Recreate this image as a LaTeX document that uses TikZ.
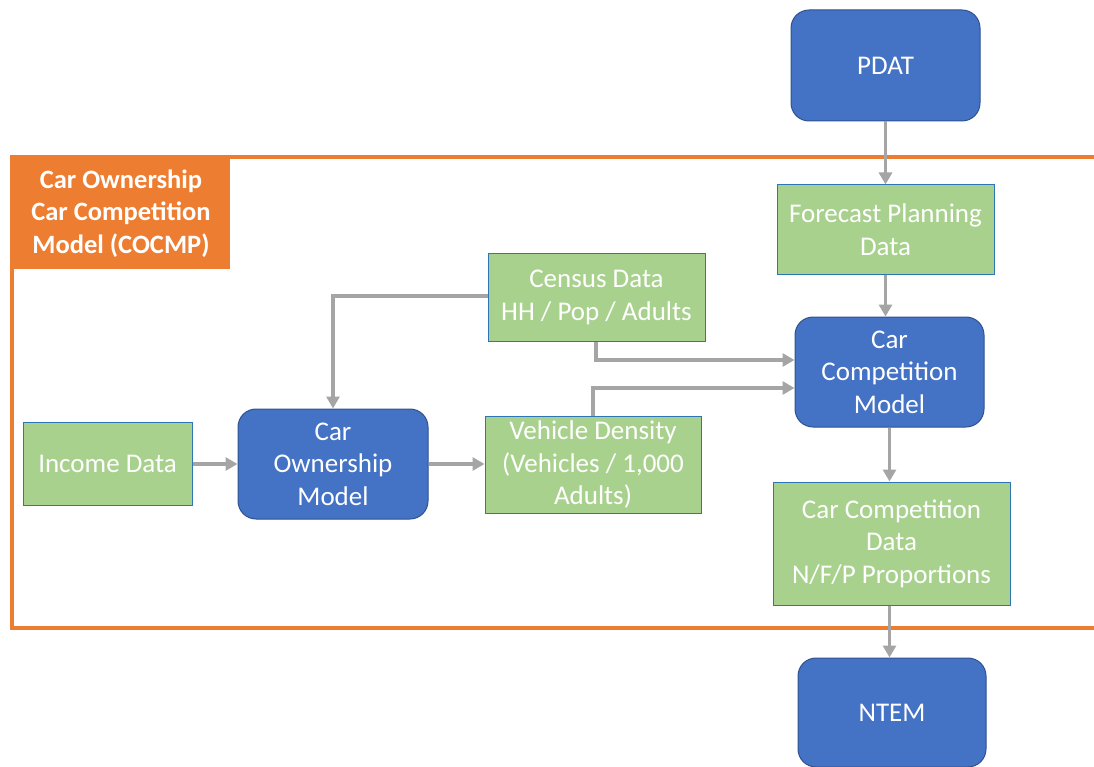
\documentclass[tikz,border=0pt]{standalone}
\usepackage{fontspec}
\setmainfont{Carlito}
\usetikzlibrary{arrows.meta}
\definecolor{boxblue}{HTML}{4472C4}
\definecolor{boxblueline}{HTML}{2F528F}
\definecolor{boxgreen}{HTML}{A9D18E}
\definecolor{greenline}{HTML}{2E75B6}
\definecolor{frameorange}{HTML}{ED7D31}
\definecolor{linkgray}{HTML}{A5A5A5}
\tikzset{
  txt/.style={text=white, font=\fontsize{27}{32.5}\selectfont, align=center, inner sep=0pt},
  model/.style={txt, fill=boxblue, draw=boxblueline, line width=1pt, rounded corners=18pt},
  data/.style={txt, fill=boxgreen, draw=greenline, line width=1pt},
  link/.style={draw=linkgray, line width=3.5pt, -{Triangle[length=12pt,width=13pt]}},
  plain/.style={draw=linkgray, line width=3.5pt}
}
\begin{document}
\begin{tikzpicture}[x=1pt,y=-1pt]
\useasboundingbox (0,0) rectangle (1094,767);
% model frame
\draw[frameorange, line width=4pt] (1100,157) -- (12,157) -- (12,628) -- (1100,628);
\node[fill=frameorange, minimum width=218pt, minimum height=111pt, inner sep=0pt,
      text=white, font=\bfseries\fontsize{26.5}{32.5}\selectfont, align=center]
      (title) at (121,213.5) {Car Ownership\\Car Competition\\Model (COCMP)};
% boxes
\node[model, minimum width=189pt, minimum height=111pt] (pdat) at (885.5,65.5) {PDAT};
\node[data, minimum width=217pt, minimum height=89pt] (fpd) at (885.5,229.5) {Forecast Planning\\Data};
\node[model, minimum width=189pt, minimum height=110pt] (ccm) at (889.5,372) {Car\\Competition\\Model};
\node[data, minimum width=217pt, minimum height=88pt] (census) at (596.5,297.5) {Census Data\\HH / Pop / Adults};
\node[data, minimum width=216pt, minimum height=97pt] (veh) at (593,464.5) {Vehicle Density\\(Vehicles / 1,000\\Adults)};
\node[data, minimum width=169pt, minimum height=83pt] (inc) at (107.5,464) {Income Data};
\node[model, minimum width=190pt, minimum height=110pt] (com) at (333,464) {Car\\Ownership\\Model};
\node[data, minimum width=237pt, minimum height=123pt] (ccd) at (891.5,543.5) {Car Competition\\Data\\N/F/P Proportions};
\node[model, minimum width=188pt, minimum height=109pt] (ntem) at (892,712.5) {NTEM};
% connectors
\coordinate (c1) at (333,296);
\coordinate (c2) at (596,360);
\coordinate (c3) at (593,388);
\draw[link] (pdat.south) -- (fpd.north);
\draw[link] (fpd.south) -- (fpd.south |- ccm.north);
\draw[link] (census.west |- c1) -- (c1) -- (com.north);
\draw[link] (census.south -| c2) -- (c2) -- (c2 -| ccm.west);
\draw[link] (veh.north -| c3) -- (c3) -- (c3 -| ccm.west);
\draw[link] (inc.east) -- (com.west);
\draw[link] (com.east) -- (com.east -| veh.west);
\draw[link] (ccm.south) -- (ccd.north -| ccm.south);
\draw[link] (ccd.south -| ccm.south) -- (ntem.north -| ccm.south);
\end{tikzpicture}
\end{document}
